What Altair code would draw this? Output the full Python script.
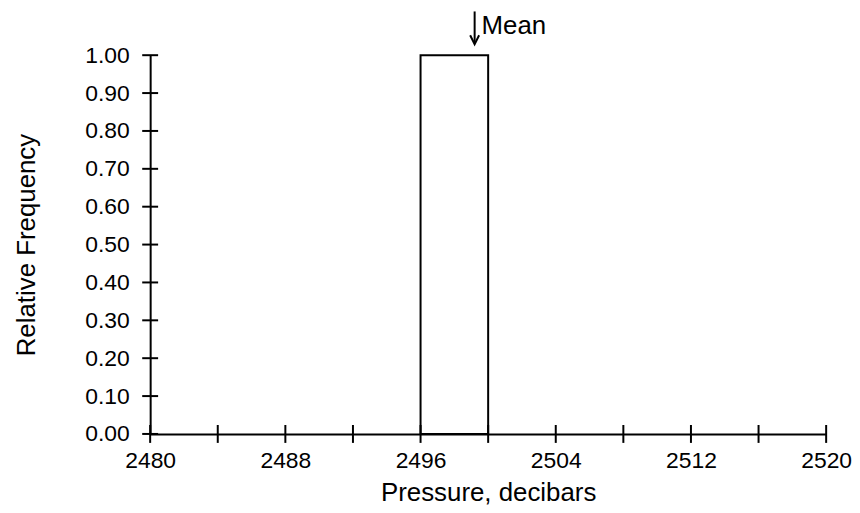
import altair as alt
import pandas as pd

# ---- data ----
x_tick_values = [2480, 2484, 2488, 2492, 2496, 2500, 2504, 2508, 2512, 2516, 2520]
x_label_values = [2480, 2488, 2496, 2504, 2512, 2520]
y_tick_values = [0.0, 0.1, 0.2, 0.3, 0.4, 0.5, 0.6, 0.7, 0.8, 0.9, 1.0]
bin_start = [2496]
bin_end = [2500]
rel_freq = [1.0]
mean_value = [2499.2]
mean_label = ["Mean"]

FONT = "Liberation Sans"
W, H = 680, 381

bars_df = pd.DataFrame({"start": bin_start, "end": bin_end, "freq": rel_freq, "base": [0.0] * len(rel_freq)})
xt_df = pd.DataFrame({"v": x_tick_values})
yt_df = pd.DataFrame({"v": y_tick_values})
mean_df = pd.DataFrame({"m": mean_value, "label": mean_label})

xscale = alt.Scale(domain=[2480, 2520], nice=False, zero=False)
yscale = alt.Scale(domain=[0, 1], nice=False)

x_axis = alt.Axis(
    values=x_label_values, format="d", title="Pressure, decibars",
    ticks=False, grid=False, labelFlush=False, labelOverlap=False,
    domainColor="black", domainWidth=2,
    labelFontSize=23, labelPadding=16, labelColor="black", labelFont=FONT,
    titleFontSize=26, titleFontWeight="normal", titleColor="black", titleFont=FONT,
    titleX=W / 2, titleY=67, titleBaseline="alphabetic", titleAlign="center",
)
y_axis = alt.Axis(
    values=y_tick_values, format=".2f", title="Relative Frequency",
    ticks=False, grid=False, labelFlush=False, labelOverlap=False,
    domainColor="black", domainWidth=2,
    labelFontSize=23, labelPadding=21, labelColor="black", labelFont=FONT,
    titleFontSize=26, titleFontWeight="normal", titleColor="black", titleFont=FONT,
    titleX=-116, titleY=H / 2, titleBaseline="alphabetic", titleAlign="center", titleAngle=270,
)

bars = alt.Chart(bars_df).mark_rect(fill="white", stroke="black", strokeWidth=2).encode(
    x=alt.X("start:Q", scale=xscale, axis=x_axis, title="Pressure, decibars"),
    x2="end:Q",
    y=alt.Y("freq:Q", scale=yscale, axis=y_axis, title="Relative Frequency"),
    y2="base:Q",
)

x_ticks = alt.Chart(xt_df).mark_tick(orient="vertical", size=18, thickness=2, color="black", opacity=1).encode(
    x=alt.X("v:Q", scale=xscale, axis=x_axis, title="Pressure, decibars"),
    y=alt.YDatum(0, scale=yscale, axis=y_axis, title="Relative Frequency"),
)
y_ticks = alt.Chart(yt_df).mark_tick(orient="horizontal", size=16, thickness=2, color="black", opacity=1).encode(
    y=alt.Y("v:Q", scale=yscale, axis=y_axis, title="Relative Frequency"),
    x=alt.XDatum(2480, scale=xscale, axis=x_axis, title="Pressure, decibars"),
)

arrow_shaft = alt.Chart(mean_df).mark_rule(color="black", strokeWidth=2).encode(
    x=alt.X("m:Q", scale=xscale, axis=x_axis, title="Pressure, decibars"),
    y=alt.value(-44),
    y2=alt.value(-12),
)
arrow_head = alt.Chart(mean_df).mark_point(
    shape="M-1,-2L0,0L1,-2", filled=False, stroke="black", strokeWidth=2, size=81, opacity=1
).encode(
    x=alt.X("m:Q", scale=xscale, axis=x_axis, title="Pressure, decibars"),
    y=alt.value(-11),
)
mean_text = alt.Chart(mean_df).mark_text(
    align="left", baseline="alphabetic", fontSize=26, font=FONT, color="black", dx=7
).encode(
    x=alt.X("m:Q", scale=xscale, axis=x_axis, title="Pressure, decibars"),
    y=alt.value(-21),
    text="label:N",
)

chart = alt.layer(bars, x_ticks, y_ticks, arrow_shaft, arrow_head, mean_text).properties(
    width=W, height=H,
    autosize=alt.AutoSizeParams(type="none"),
    padding={"left": 143, "top": 46, "right": 26, "bottom": 70},
).configure_view(stroke=None)

chart.save("out.html", embed_options={"renderer": "svg", "actions": False})
